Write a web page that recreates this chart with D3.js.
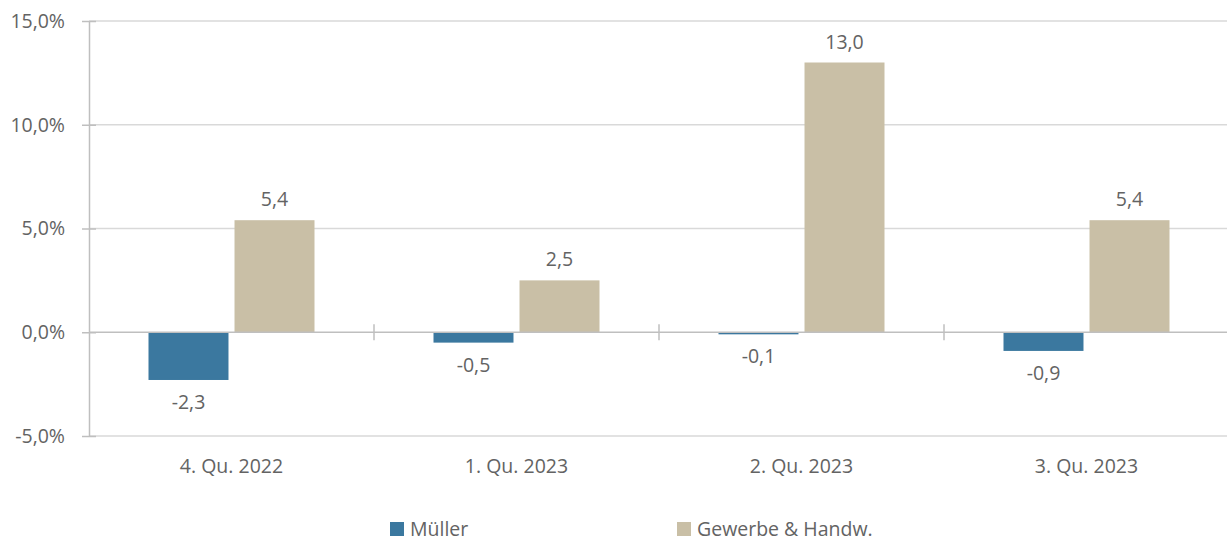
<!DOCTYPE html>
<html><head><meta charset="utf-8">
<script src="https://cdn.jsdelivr.net/npm/d3@7"></script>
<style>
html,body{margin:0;padding:0;background:#fff;}
text{font-family:"Open Sans",sans-serif;fill:#636363;}
</style></head><body>
<svg id="c" width="1227" height="542"></svg>
<script>
const categories = ["4. Qu. 2022","1. Qu. 2023","2. Qu. 2023","3. Qu. 2023"];
const seriesNames = ["Müller","Gewerbe & Handw."];
const mueller = [-2.3,-0.5,-0.1,-0.9];
const gewerbe = [5.4,2.5,13.0,5.4];
const yTicks = [-5,0,5,10,15];
const colors = ["#3b789f","#c9bfa6"];

const svg = d3.select("#c");
const L = 89, R = 1229, T = 21, B = 436;
const FS = "19.5px";
const x = d3.scaleBand().domain(categories).range([L, R]).paddingInner(0).paddingOuter(0);
const y = d3.scaleLinear().domain([-5,15]).range([B, T]);
const fmt = v => v.toFixed(1).replace(".", ",");

// gridlines
svg.append("g").selectAll("line").data(yTicks.filter(d=>d!==0)).join("line")
  .attr("x1", L).attr("x2", 1227).attr("y1", d=>y(d)).attr("y2", d=>y(d))
  .attr("stroke", "#d9d9d9").attr("stroke-width", 1.5);

// y axis
const yAxis = d3.axisLeft(y).tickValues(yTicks).tickSize(0).tickPadding(24).tickFormat(d=>fmt(d)+"%");
const ga = svg.append("g").attr("transform", `translate(${L},0)`).call(yAxis);
ga.select(".domain").attr("stroke", "#bfbfbf").attr("stroke-width", 1.5);
ga.selectAll("text").style("font-size",FS).attr("fill","#636363");
ga.selectAll(".tick").append("line").attr("x1",-7).attr("x2",7).attr("stroke","#bfbfbf").attr("stroke-width",1.5);

// bars
const inner = d3.scaleBand().domain([0,1]).range([0, 166]).paddingInner(0.07);
const data = [mueller, gewerbe];
data.forEach((vals, si) => {
  const g = svg.append("g");
  g.selectAll("rect").data(vals).join("rect")
    .attr("x", (d,i) => x(categories[i]) + x.bandwidth()/2 - 83 + inner(si))
    .attr("width", inner.bandwidth())
    .attr("y", d => y(Math.max(0,d)))
    .attr("height", d => Math.abs(y(d)-y(0)))
    .attr("fill", colors[si]);
  g.selectAll("text").data(vals).join("text")
    .attr("x", (d,i) => x(categories[i]) + x.bandwidth()/2 - 83 + inner(si) + inner.bandwidth()/2)
    .attr("y", d => d >= 0 ? y(d) - 14 : y(d) + 29)
    .attr("text-anchor","middle").style("font-size",FS)
    .text(d => fmt(d));
});

// zero line and category ticks
svg.append("line").attr("x1", L).attr("x2", 1227).attr("y1", y(0)).attr("y2", y(0))
  .attr("stroke", "#bfbfbf").attr("stroke-width", 1.5);
svg.append("g").selectAll("line").data(categories.slice(1)).join("line")
  .attr("x1", d=>x(d)).attr("x2", d=>x(d)).attr("y1", y(0)-8).attr("y2", y(0)+8)
  .attr("stroke", "#bfbfbf").attr("stroke-width", 1.5);

// x labels
svg.append("g").selectAll("text").data(categories).join("text")
  .attr("x", d => x(d) + x.bandwidth()/2).attr("y", 473)
  .attr("text-anchor","middle").style("font-size",FS).text(d=>d);

// legend
const legX = [390, 677];
const lg = svg.append("g");
seriesNames.forEach((n, i) => {
  lg.append("rect").attr("x", legX[i]).attr("y", 522).attr("width", 14).attr("height", 14).attr("fill", colors[i]);
  lg.append("text").attr("x", legX[i] + 20).attr("y", 536).style("font-size",FS).text(n);
});
</script></body></html>
